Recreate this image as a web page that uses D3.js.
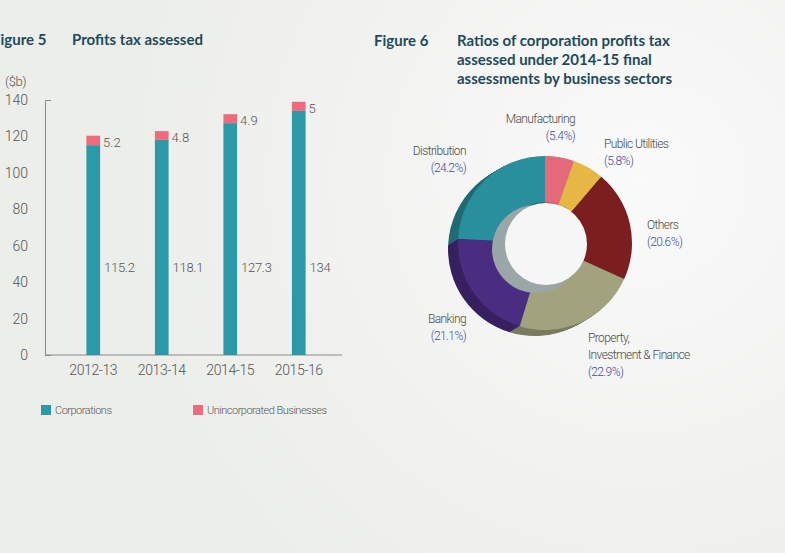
<!DOCTYPE html>
<html>
<head>
<meta charset="utf-8">
<script src="https://cdn.jsdelivr.net/npm/d3@7"></script>
<style>
  html, body { margin: 0; padding: 0; background: #eef0ec; }
  svg { display: block; }
</style>
</head>
<body>
<svg id="chart"></svg>
<script>
// Figure 5 data ($b)
const years = ['2012-13', '2013-14', '2014-15', '2015-16'];
const corporations = [115.2, 118.1, 127.3, 134];
const unincorporated = [5.2, 4.8, 4.9, 5];
const yTicks = [0, 20, 40, 60, 80, 100, 120, 140];

// Figure 6 data (%)
const sectors = ['Manufacturing', 'Public Utilities', 'Others', 'Property, Investment & Finance', 'Banking', 'Distribution'];
const shares = [5.4, 5.8, 20.6, 22.9, 21.1, 24.2];

const W = 785, H = 553;
const labelFont = 'Roboto, "Liberation Sans Narrow", sans-serif';
const titleFont = 'Lato, "Open Sans", sans-serif';
const titleColor = '#1e4a5b';

const svg = d3.select('#chart')
  .attr('width', W)
  .attr('height', H);

// background
const defs = svg.append('defs');
const grad = defs.append('radialGradient')
  .attr('id', 'bg')
  .attr('gradientUnits', 'userSpaceOnUse')
  .attr('cx', 640).attr('cy', 180).attr('r', 520);
grad.append('stop').attr('offset', '0%').attr('stop-color', '#f9faf9');
grad.append('stop').attr('offset', '55%').attr('stop-color', '#f2f3f1');
grad.append('stop').attr('offset', '100%').attr('stop-color', '#eceee9');
svg.append('rect').attr('width', W).attr('height', H).attr('fill', 'url(#bg)');

// ---------- Figure 5: stacked bars ----------
const x = d3.scaleBand()
  .domain(years)
  .range([59, 333])
  .paddingInner(0.8)
  .paddingOuter(0.4);

const y = d3.scaleLinear()
  .domain([0, 140])
  .range([355, 100]);

svg.append('text')
  .attr('x', -8).attr('y', 45)
  .attr('font-family', titleFont).attr('font-weight', 700).attr('font-size', 15)
  .attr('fill', titleColor)
  .text('Figure 5');

svg.append('text')
  .attr('x', 72).attr('y', 45)
  .attr('font-family', titleFont).attr('font-weight', 700).attr('font-size', 15)
  .attr('fill', titleColor)
  .text('Profits tax assessed');

svg.append('text')
  .attr('x', 5).attr('y', 86)
  .attr('font-family', labelFont).attr('font-weight', 300).attr('font-size', 13)
  .attr('letter-spacing', -0.4)
  .attr('fill', '#555')
  .text('($b)');

const yAxis = svg.append('g')
  .attr('transform', 'translate(45,0)')
  .call(d3.axisLeft(y).tickValues(yTicks).tickSize(0).tickSizeOuter(-6).tickPadding(17));
yAxis.select('.domain').attr('stroke', '#8a8a8a');
yAxis.selectAll('text')
  .attr('font-family', labelFont).attr('font-weight', 300).attr('font-size', 14).attr('fill', '#555');

const xAxis = svg.append('g')
  .attr('transform', 'translate(0,355)')
  .call(d3.axisBottom(x).tickSize(0).tickPadding(10));
xAxis.select('.domain').attr('d', 'M45,0H342').attr('stroke', '#8a8a8a');
xAxis.selectAll('text')
  .attr('font-family', labelFont).attr('font-weight', 300).attr('font-size', 14)
  .attr('letter-spacing', -0.4).attr('fill', '#555');

const barColor = '#2b99a7';
const pinkColor = '#f06a7d';

const bars = svg.append('g').selectAll('g')
  .data(years)
  .join('g');

bars.append('rect')
  .attr('x', d => x(d))
  .attr('width', x.bandwidth())
  .attr('y', (d, i) => y(corporations[i]))
  .attr('height', (d, i) => y(0) - y(corporations[i]))
  .attr('fill', barColor);

bars.append('rect')
  .attr('x', d => x(d))
  .attr('width', x.bandwidth())
  .attr('y', (d, i) => y(corporations[i] + unincorporated[i]))
  .attr('height', (d, i) => y(corporations[i]) - y(corporations[i] + unincorporated[i]))
  .attr('fill', pinkColor);

bars.append('text')
  .attr('x', d => x(d) + x.bandwidth() + 3)
  .attr('y', (d, i) => y(corporations[i] + unincorporated[i] / 2) + 2)
  .attr('dy', '0.35em')
  .attr('font-family', labelFont).attr('font-weight', 300).attr('font-size', 13).attr('fill', '#555')
  .text((d, i) => unincorporated[i]);

bars.append('text')
  .attr('x', d => x(d) + x.bandwidth() + 4)
  .attr('y', y(48))
  .attr('dy', '0.35em')
  .attr('font-family', labelFont).attr('font-weight', 300).attr('font-size', 13)
  .attr('letter-spacing', -0.3).attr('fill', '#555')
  .text((d, i) => corporations[i]);

// legend
const legendItems = [
  { label: 'Corporations', color: barColor, x: 41 },
  { label: 'Unincorporated Businesses', color: pinkColor, x: 193 }
];
const legend = svg.append('g').selectAll('g')
  .data(legendItems)
  .join('g')
  .attr('transform', d => `translate(${d.x},405)`);
legend.append('rect')
  .attr('width', 10).attr('height', 10)
  .attr('fill', d => d.color);
legend.append('text')
  .attr('x', 14).attr('y', 9)
  .attr('font-family', labelFont).attr('font-weight', 300).attr('font-size', 11)
  .attr('letter-spacing', -0.5).attr('fill', '#555')
  .text(d => d.label);

// ---------- Figure 6: donut ----------
svg.append('text')
  .attr('x', 374).attr('y', 46)
  .attr('font-family', titleFont).attr('font-weight', 700).attr('font-size', 15)
  .attr('fill', titleColor)
  .text('Figure 6');

svg.append('text')
  .attr('font-family', titleFont).attr('font-weight', 700).attr('font-size', 15)
  .attr('fill', titleColor)
  .selectAll('tspan')
  .data(['Ratios of corporation profits tax', 'assessed under 2014-15 final', 'assessments by business sectors'])
  .join('tspan')
  .attr('x', 457)
  .attr('y', (d, i) => 46 + i * 19)
  .text(d => d);

const cx = 545, cy = 243;
const rOuter = 87, rInner = 41;
const sliceColors = ['#e46a7b', '#e7b746', '#7a1e1f', '#a2a37e', '#4a2c80', '#2a8f9c'];

const pie = d3.pie().sort(null).value(d => d)(shares);
const arc = d3.arc().innerRadius(rInner).outerRadius(rOuter);

// extruded side
const depth = d3.range(10, 0, -1);
depth.forEach(k => {
  svg.append('g')
    .attr('transform', `translate(${cx - k * 1.0},${cy + k * 0.6})`)
    .selectAll('path')
    .data(pie)
    .join('path')
    .attr('d', arc)
    .attr('fill', (d, i) => d3.color(sliceColors[i]).darker(0.8));
});

// top face
svg.append('g')
  .attr('transform', `translate(${cx},${cy})`)
  .selectAll('path')
  .data(pie)
  .join('path')
  .attr('d', arc)
  .attr('fill', (d, i) => sliceColors[i]);

// inner wall and hole
svg.append('circle')
  .attr('cx', cx - 9).attr('cy', cy + 6).attr('r', 44)
  .attr('fill', '#9ba7a7');
svg.append('circle')
  .attr('cx', cx + 1).attr('cy', cy + 1).attr('r', rInner)
  .attr('fill', '#f5f6f5');

// labels (anchor offsets from centre)
const labelLayout = [
  { dx: 30, dy: -120, anchor: 'end' },
  { dx: 59, dy: -95, anchor: 'start' },
  { dx: 102, dy: -14, anchor: 'start' },
  { dx: 43, dy: 99, anchor: 'start' },
  { dx: -79, dy: 80, anchor: 'end' },
  { dx: -79, dy: -88, anchor: 'end' }
];

const labels = svg.append('g').selectAll('text')
  .data(sectors)
  .join('text')
  .attr('font-family', labelFont).attr('font-weight', 300).attr('font-size', 12)
  .attr('letter-spacing', -0.6)
  .attr('text-anchor', (d, i) => labelLayout[i].anchor);

labels.each(function(d, i) {
  const t = d3.select(this);
  const lx = cx + labelLayout[i].dx;
  const ly = cy + labelLayout[i].dy;
  const lines = d === 'Property, Investment & Finance' ? ['Property,', 'Investment & Finance'] : [d];
  lines.forEach((line, j) => {
    t.append('tspan').attr('x', lx).attr('y', ly + j * 17).attr('fill', '#4a4a4a').text(line);
  });
  t.append('tspan').attr('x', lx).attr('y', ly + lines.length * 17)
    .attr('fill', '#3d4c9c')
    .text(`(${shares[i]}%)`);
});
</script>
</body>
</html>
